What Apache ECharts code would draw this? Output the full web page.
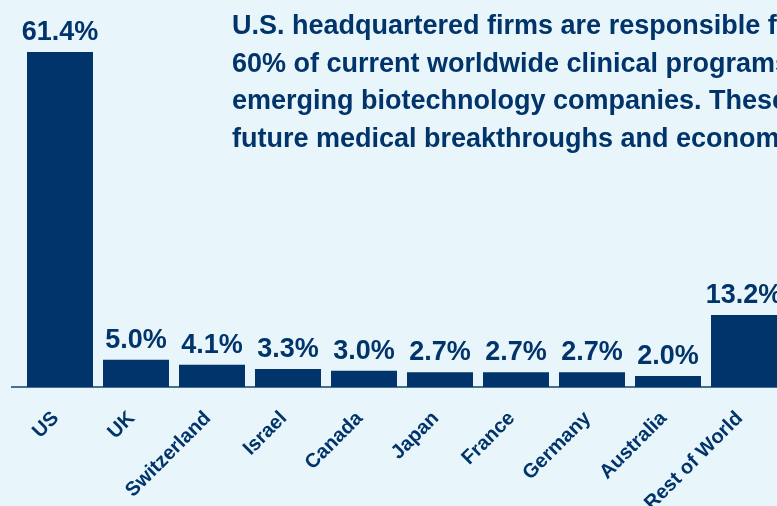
<!DOCTYPE html>
<html>
<head>
<meta charset="utf-8">
<script src="https://cdn.jsdelivr.net/npm/echarts@6/dist/echarts.min.js"></script>
<style>
  html, body { margin: 0; padding: 0; background: #e8f5fa; }
  #chart { width: 777px; height: 506px; }
</style>
</head>
<body>
<div id="chart"></div>
<script>
// data
const countries = ['US', 'UK', 'Switzerland', 'Israel', 'Canada', 'Japan', 'France', 'Germany', 'Australia', 'Rest of World'];
const shares = [61.4, 5.0, 4.1, 3.3, 3.0, 2.7, 2.7, 2.7, 2.0, 13.2];
const noteLines = [
  'U.S. headquartered firms are responsible for',
  '60% of current worldwide clinical programs',
  'emerging biotechnology companies. These',
  'future medical breakthroughs and economic'
];

const navy = '#00346a';
const font = '"Liberation Sans", Arial, sans-serif';

const chart = echarts.init(document.getElementById('chart'));

chart.setOption({
  backgroundColor: '#e8f5fa',
  animation: false,
  title: {
    text: noteLines.join('\n'),
    left: 232,
    top: 8,
    padding: 0,
    textStyle: {
      color: navy,
      fontFamily: font,
      fontWeight: 'bold',
      fontSize: 27,
      lineHeight: 37.5
    }
  },
  // plot runs past the right edge, last bar is cut off like the reference
  grid: {
    left: 22, width: 760, top: 5, bottom: 119,
    containLabel: false,
    outerBoundsMode: 'none'
  },
  xAxis: {
    type: 'category',
    data: countries,
    axisLine: { lineStyle: { color: '#4a6e94', width: 2 } },
    axisTick: { show: false },
    axisLabel: {
      rotate: 45,
      margin: 24,
      padding: [0, 6, 0, 0],
      interval: 0,
      color: navy,
      fontFamily: font,
      fontWeight: 'bold',
      fontSize: 20
    }
  },
  yAxis: {
    type: 'value',
    min: 0,
    max: 70,
    show: false,
    splitLine: { show: false }
  },
  series: [{
    type: 'bar',
    data: shares,
    barWidth: 66,
    itemStyle: { color: navy },
    label: {
      show: true,
      position: 'top',
      distance: 6,
      color: navy,
      fontFamily: font,
      fontWeight: 'bold',
      fontSize: 27,
      formatter: (p) => p.value.toFixed(1) + '%'
    }
  }],
  graphic: [{
    // short stub of the baseline to the left of the first bar
    type: 'line',
    shape: { x1: 11, y1: 387, x2: 22, y2: 387 },
    style: { stroke: '#4a6e94', lineWidth: 2 }
  }]
});
</script>
</body>
</html>
